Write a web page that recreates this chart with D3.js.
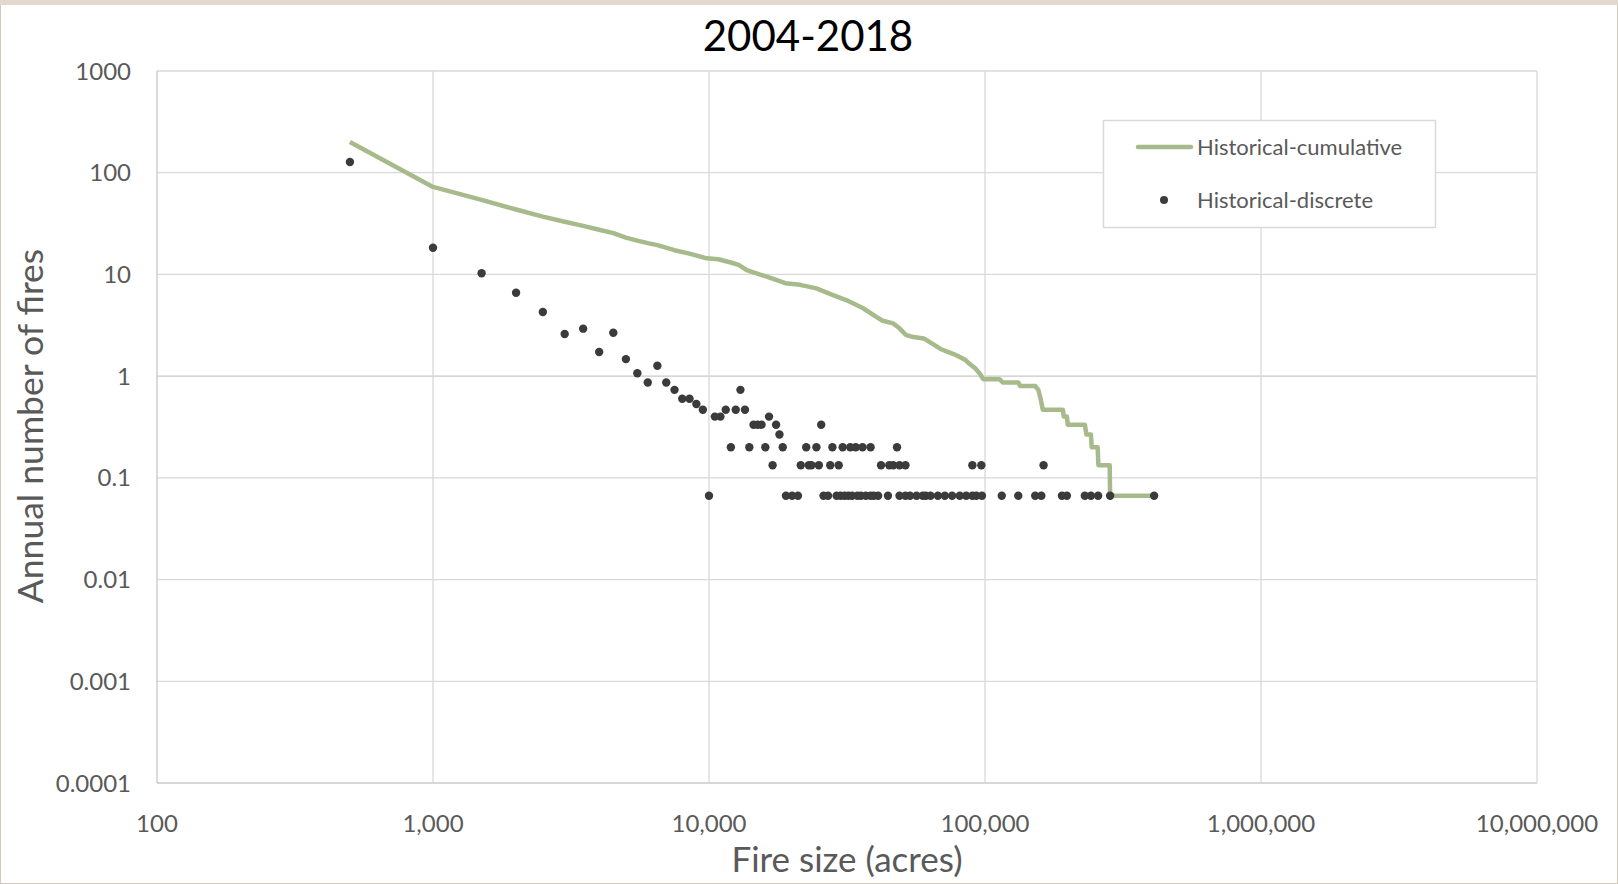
<!DOCTYPE html>
<html>
  <head>
    <meta charset="utf-8" />
    <title>2004-2018</title>
    <script src="https://d3js.org/d3.v7.min.js"></script>
  </head>

  <style>
    body {
      margin: 0px;
      padding: 0px;
      background: #fff;
    }

    text {
      font-family: Lato, "Open Sans", sans-serif;
    }

    .grid line {
      stroke: #d9d9d9;
      stroke-width: 1.3;
    }

    .tick-label {
      fill: #595959;
      font-size: 24px;
    }

    .cum {
      fill: none;
      stroke: #a7ba8c;
      stroke-width: 4.5;
      stroke-linejoin: round;
    }

    .dot {
      fill: #3b3b3b;
    }
  </style>

  <body>
    <script>

      // x ticks and y ticks (log scale, one per decade)
      var xTicks = [100, 1000, 10000, 100000, 1000000, 10000000];
      var yTicks = [0.0001, 0.001, 0.01, 0.1, 1, 10, 100, 1000];
      var yTickLabels = ["0.0001", "0.001", "0.01", "0.1", "1", "10", "100", "1000"];

      // Historical-discrete: fire size (acres) and annual number of fires
      var discreteSize = [
        500, 1000, 1500, 2000, 2500, 3000, 3500, 4000, 4500, 5000,
        5500, 6000, 6500, 7000, 7500, 8000, 8500, 9000, 9500, 10500,
        11000, 11500, 12000, 12500, 13000, 13500, 14000, 14500, 15000, 15500,
        16000, 16500, 17000, 17500, 18000, 18500, 21500, 22500, 23000, 23500,
        24500, 25000, 25500, 27500, 28000, 29500, 30500, 32500, 34000, 36000,
        38500, 42000, 45000, 46500, 48000, 49000, 51500, 90000, 97000, 163000,
        10000, 19000, 20000, 21000, 26000, 27000, 29000, 30000, 31000, 32000,
        33000, 34500, 35500, 37000, 38500, 39500, 41000, 44500, 49000, 51500,
        53500, 56500, 59500, 61000, 63500, 67500, 71500, 76000, 81000, 85500,
        90000, 93000, 97500, 115000, 132000, 152000, 160000, 190000, 198000, 230000,
        242000, 257000, 284000, 410000
      ];
      var discreteFires = [
        127.4, 18.3, 10.27, 6.6, 4.27, 2.6, 2.93, 1.73, 2.67, 1.47,
        1.067, 0.867, 1.267, 0.867, 0.733, 0.6, 0.6, 0.533, 0.467, 0.4,
        0.4, 0.467, 0.2, 0.467, 0.733, 0.467, 0.2, 0.333, 0.333, 0.333,
        0.2, 0.4, 0.133, 0.333, 0.267, 0.2, 0.133, 0.2, 0.133, 0.133,
        0.2, 0.133, 0.333, 0.133, 0.2, 0.133, 0.2, 0.2, 0.2, 0.2,
        0.2, 0.133, 0.133, 0.133, 0.2, 0.133, 0.133, 0.133, 0.133, 0.133,
        0.0667, 0.0667, 0.0667, 0.0667, 0.0667, 0.0667, 0.0667, 0.0667, 0.0667, 0.0667,
        0.0667, 0.0667, 0.0667, 0.0667, 0.0667, 0.0667, 0.0667, 0.0667, 0.0667, 0.0667,
        0.0667, 0.0667, 0.0667, 0.0667, 0.0667, 0.0667, 0.0667, 0.0667, 0.0667, 0.0667,
        0.0667, 0.0667, 0.0667, 0.0667, 0.0667, 0.0667, 0.0667, 0.0667, 0.0667, 0.0667,
        0.0667, 0.0667, 0.0667, 0.0667
      ];

      // Historical-cumulative: fire size (acres) and annual number of fires >= size
      var cumSize = [
        500, 1000, 1500, 2000, 2500, 3000, 3500, 4000, 4500, 5000,
        5500, 6000, 6500, 7500, 8500, 9800, 10800, 12000, 12800, 13700,
        16200, 18900, 21400, 24500, 28000, 31400, 36200, 40000, 42600, 46500,
        49000, 51600, 55000, 60000, 65000, 69000, 73000, 77000, 80000, 85000,
        88500, 92000, 96000, 98500, 113000, 116000, 132000, 134000, 152000, 156000,
        159000, 162000, 191500, 193000, 198000, 199500, 230000, 233000, 242000, 243500,
        256000, 257500, 283000, 284000, 410000
      ];
      var cumFires = [
        200, 72.5, 54, 43.5, 37, 33, 30, 27.5, 25.5, 23,
        21.5, 20.3, 19.4, 17.3, 16, 14.4, 14.1, 13.1, 12.4, 11,
        9.5, 8.2, 7.9, 7.3, 6.3, 5.6, 4.65, 3.9, 3.5, 3.3,
        2.95, 2.55, 2.42, 2.35, 2.05, 1.85, 1.74, 1.65, 1.57, 1.44,
        1.3, 1.2, 1.05, 0.933, 0.933, 0.867, 0.867, 0.8, 0.8, 0.733,
        0.6, 0.467, 0.467, 0.4, 0.4, 0.333, 0.333, 0.267, 0.267, 0.2,
        0.2, 0.133, 0.133, 0.0667, 0.0667
      ];

      var width = 1618, height = 884;
      var plot = {left: 157, right: 1537, top: 71, bottom: 783};

      var svg = d3.select("body").append("svg")
        .attr("width", width)
        .attr("height", height);

      // frame
      svg.append("rect")
        .attr("x", 0.5).attr("y", 0.5)
        .attr("width", width - 1).attr("height", height - 1)
        .style("fill", "#fff")
        .style("stroke", "#d6c8ba");
      svg.append("rect")
        .attr("x", 0).attr("y", 0)
        .attr("width", width).attr("height", 5)
        .style("fill", "#e2d8ce");

      var x = d3.scaleLog()
        .domain([100, 10000000])
        .range([plot.left, plot.right]);

      var y = d3.scaleLog()
        .domain([0.0001, 1000])
        .range([plot.bottom, plot.top]);

      var grid = svg.append("g").attr("class", "grid");

      grid.selectAll(".hgrid")
        .data(yTicks)
        .enter().append("line")
          .attr("x1", plot.left).attr("x2", plot.right)
          .attr("y1", function(d) { return y(d); })
          .attr("y2", function(d) { return y(d); })
          .style("stroke", function(d) { return (d === 1 || d === 0.0001) ? "#c8c8c8" : null; });

      grid.selectAll(".vgrid")
        .data(xTicks)
        .enter().append("line")
          .attr("y1", plot.top).attr("y2", plot.bottom)
          .attr("x1", function(d) { return x(d); })
          .attr("x2", function(d) { return x(d); })
          .style("stroke", function(d) { return d === 100 ? "#c8c8c8" : null; });

      // y tick labels
      svg.selectAll(".ylab")
        .data(yTicks)
        .enter().append("text")
          .attr("class", "tick-label")
          .attr("x", plot.left - 26)
          .attr("y", function(d) { return y(d); })
          .attr("dy", "0.36em")
          .attr("text-anchor", "end")
          .text(function(d, i) { return yTickLabels[i]; });

      // x tick labels
      svg.selectAll(".xlab")
        .data(xTicks)
        .enter().append("text")
          .attr("class", "tick-label")
          .attr("x", function(d) { return x(d); })
          .attr("y", plot.bottom + 49)
          .attr("text-anchor", "middle")
          .text(function(d) { return d3.format(",")(d); });

      // cumulative line
      var line = d3.line()
        .x(function(d, i) { return x(cumSize[i]); })
        .y(function(d, i) { return y(cumFires[i]); });

      svg.append("path")
        .datum(cumSize)
        .attr("class", "cum")
        .attr("d", line);

      // discrete points
      svg.selectAll(".dot")
        .data(discreteSize)
        .enter().append("circle")
          .attr("class", "dot")
          .attr("cx", function(d) { return x(d); })
          .attr("cy", function(d, i) { return y(discreteFires[i]); })
          .attr("r", 4.2);

      // title and axis titles
      svg.append("text")
        .attr("x", 808)
        .attr("y", 51)
        .attr("text-anchor", "middle")
        .style("font-size", "42px")
        .style("fill", "#000")
        .text("2004-2018");

      svg.append("text")
        .attr("x", 847)
        .attr("y", 872)
        .attr("text-anchor", "middle")
        .style("font-size", "35px")
        .style("fill", "#595959")
        .text("Fire size (acres)");

      svg.append("text")
        .attr("transform", "translate(43,426) rotate(-90)")
        .attr("text-anchor", "middle")
        .style("font-size", "35.5px")
        .style("fill", "#595959")
        .text("Annual number of fires");

      // legend
      var legend = svg.append("g");

      legend.append("rect")
        .attr("x", 1103.5).attr("y", 120.5)
        .attr("width", 332).attr("height", 107)
        .style("fill", "#fff")
        .style("stroke", "#d9d9d9")
        .style("stroke-width", 1.5);

      legend.append("line")
        .attr("x1", 1138).attr("x2", 1191)
        .attr("y1", 147).attr("y2", 147)
        .style("stroke", "#a7ba8c")
        .style("stroke-width", 4.5)
        .style("stroke-linecap", "round");

      legend.append("text")
        .attr("x", 1197).attr("y", 155)
        .style("font-size", "22px")
        .style("fill", "#595959")
        .text("Historical-cumulative");

      legend.append("circle")
        .attr("cx", 1164).attr("cy", 200)
        .attr("r", 4)
        .style("fill", "#3b3b3b");

      legend.append("text")
        .attr("x", 1197).attr("y", 208)
        .style("font-size", "22px")
        .style("fill", "#595959")
        .text("Historical-discrete");

    </script>
  </body>
</html>
